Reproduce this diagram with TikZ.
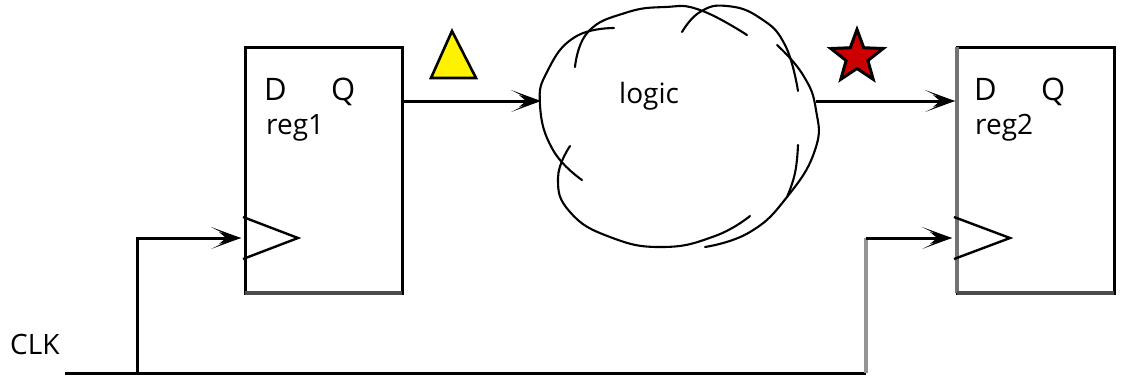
\documentclass[tikz,border=0pt]{standalone}
\usepackage{fontspec}
\setmainfont{Open Sans}
\usetikzlibrary{arrows.meta,shapes.geometric,calc}
\tikzset{
  regbox/.style={draw=black,line width=3pt,minimum width=157pt,minimum height=246pt,inner sep=0pt,outer sep=0pt},
  wire/.style={line width=3pt,black},
  graywire/.style={line width=3.2pt,color=black!42},
  arrowwire/.style={wire,-{Stealth[length=30pt,width=22pt,inset=22pt,line width=0pt,sep=-22pt]Stealth[length=22pt,width=12pt,inset=7pt,line width=0pt]}},
  clocktri/.style={line width=2.4pt,black},
  cloudline/.style={line width=2.1pt,black,smooth,tension=0.8,line cap=round},
  lab/.style={inner sep=0pt,font=\fontsize{28}{30}\selectfont,anchor=base west},
  pin/.style={inner sep=0pt,font=\fontsize{31}{34}\selectfont,anchor=base west}
}
\begin{document}
\begin{tikzpicture}[x=1pt,y=-1pt]
\useasboundingbox (0,0) rectangle (1122,376);
% registers
\node[regbox] (reg1) at (323.5,170) {};
\node[regbox] (reg2) at (1035.5,170) {};
\draw[graywire,color=black!55] (reg2.north west) -- (reg2.south west);
\draw[line width=3.2pt,color=black!70] (reg1.south west) -- (reg1.south east);
\draw[line width=3.2pt,color=black!70] (reg2.south west) -- (reg2.south east);
% register labels
\node[pin] (d1) at (264,100) {D};
\node[pin] (q1) at (331,100) {Q};
\node[lab] (n1) at (266,134) {reg1};
\node[pin] (d2) at (974,100) {D};
\node[pin] (q2) at (1041,100) {Q};
\node[lab] (n2) at (975,134) {reg2};
\node[lab] (logic) at (619,103) {logic};
\node[lab] (clk) at (10,354) {CLK};
% clock triangles
\coordinate (t1a) at (243,217); \coordinate (t1b) at (298,238); \coordinate (t1c) at (243,259);
\coordinate (t2a) at (954,217); \coordinate (t2b) at (1010,238); \coordinate (t2c) at (954,259);
\draw[clocktri] (t1a) -- (t1b) -- (t1c);
\draw[clocktri] (t2a) -- (t2b) -- (t2c);
% cloud
\draw[cloudline] plot coordinates {(575,67) (588,32) (625,13) (665,7) (700,10) (747,35)};
\draw[cloudline] plot coordinates {(614,28) (575,37) (548,70) (540,105) (553,150) (582,180)};
\draw[cloudline] plot coordinates {(570,146) (558,178) (570,212) (610,237) (663,247) (715,236) (750,216)};
\draw[cloudline] plot coordinates {(682,32) (700,12) (727,6) (760,18) (785,45) (798,91)};
\draw[cloudline] plot coordinates {(777,45) (803,75) (816,110) (815,150) (787,197) (750,232) (705,247)};
\draw[cloudline] plot coordinates {(798,145) (795,173) (787,197)};
% markers
\draw[draw=black,fill=yellow,line width=2.6pt,line join=miter] (452,31) -- (476,78) -- (431,78) -- cycle;
\node[draw=black,fill=red!80!black,line width=3pt,star,star points=5,star point ratio=2.4,inner sep=0pt,minimum size=55pt] (st) at (857,57) {};
% connectors
\coordinate (lin) at (541,101);
\coordinate (lout) at (816,101);
\coordinate (in2) at (955,101);
\coordinate (bus0) at (65,373);
\coordinate (busj) at (137,373);
\coordinate (busend) at (866,373);
\coordinate (up2) at (866,238);
\coordinate (up1) at (137,238);
\coordinate (ck1) at (241,238);
\coordinate (ck2) at (952,238);
\draw[arrowwire] (reg1.east |- lin) -- (lin);
\draw[arrowwire] (lout) -- (in2);
\draw[wire] (bus0) -- (busend);
\draw[arrowwire] (busj) -- (up1) -- (ck1);
\draw[graywire] (busend) -- (up2);
\draw[arrowwire] (up2) -- (ck2);
\end{tikzpicture}
\end{document}
